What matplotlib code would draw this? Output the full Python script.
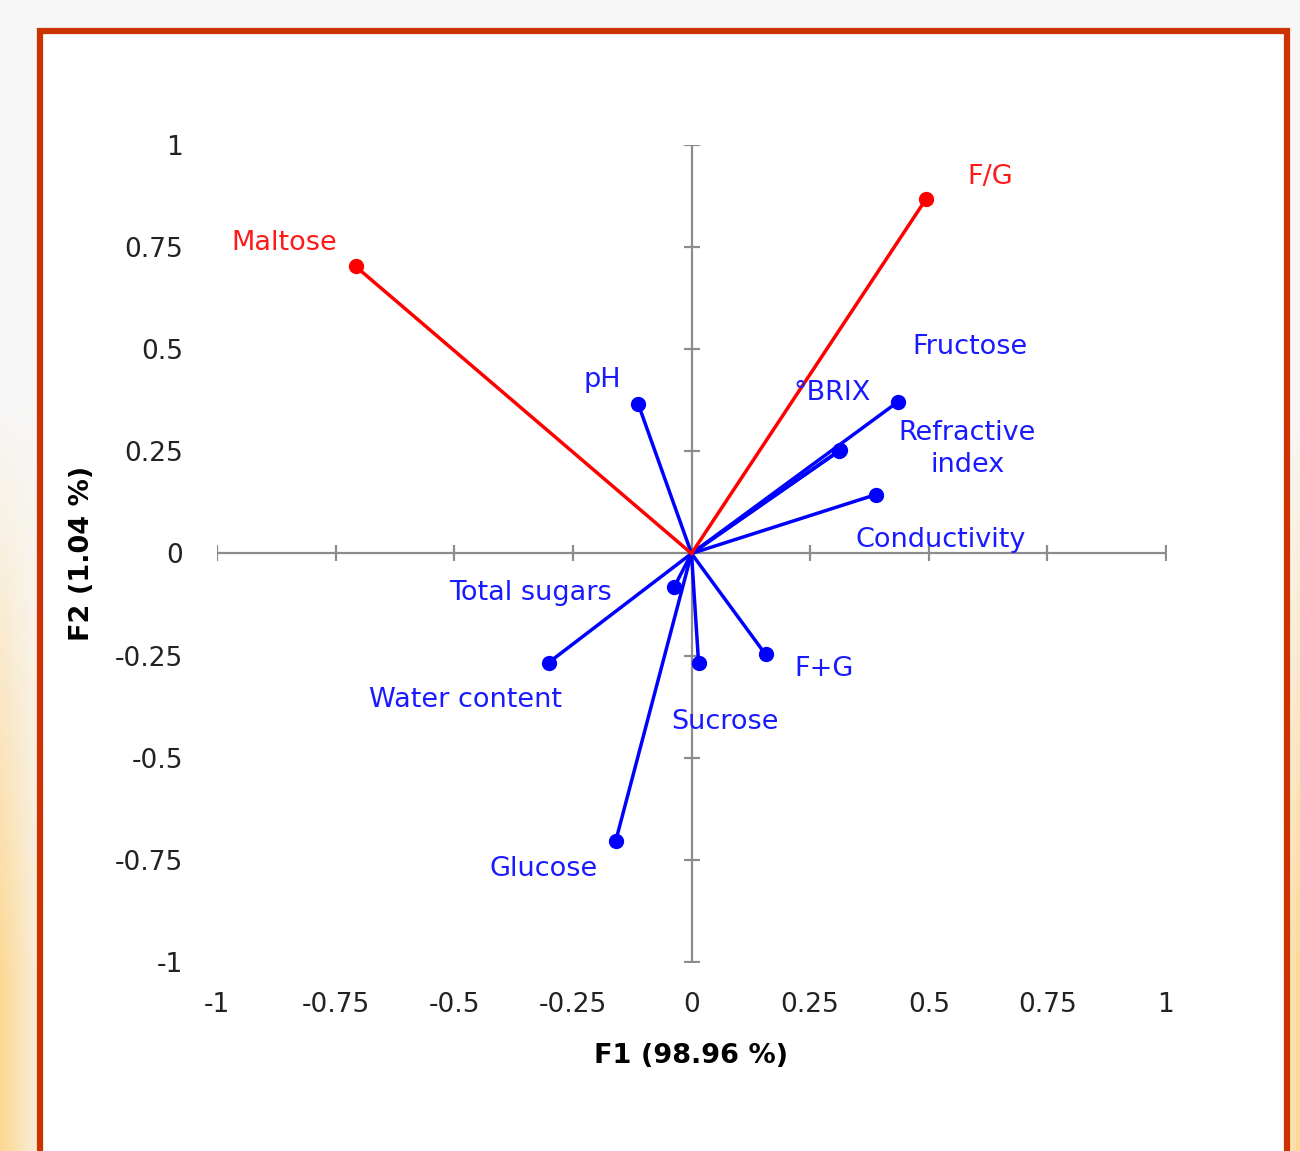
import matplotlib.pyplot as plt
import numpy as np
from matplotlib.patches import Rectangle

# variable names and their loadings on F1 / F2
red_vars = ['Maltose', 'F/G']
red_f1 = [-0.708, 0.495]
red_f2 = [0.703, 0.869]

blue_vars = ['pH', 'Fructose', '°BRIX', 'Refractive\nindex', 'Conductivity',
             'Total sugars', 'Water content', 'Sucrose', 'F+G', 'Glucose']
blue_f1 = [-0.112, 0.436, 0.310, 0.314, 0.388, -0.036, -0.301, 0.015, 0.156, -0.160]
blue_f2 = [0.365, 0.372, 0.250, 0.254, 0.144, -0.081, -0.267, -0.269, -0.247, -0.705]

ticks = [-1, -0.75, -0.5, -0.25, 0, 0.25, 0.5, 0.75, 1]
tick_labels = ['-1', '-0.75', '-0.5', '-0.25', '0', '0.25', '0.5', '0.75', '1']

# label offsets in pixels from each point
red_offsets = [(-71, 23), (64, 22)]
blue_offsets = [(-36, 24), (72, 55), (-7, 58), (127, 1), (65, -45),
                (-144, -6), (-83, -37), (26, -59), (59, -15), (-72, -28)]

plt.rcParams['font.family'] = ['DejaVu Sans']

W, H = 1300, 1151
fig = plt.figure(figsize=(W / 100, H / 100), dpi=100)

# background outside the frame: light with a warm blur on the sides
bg = fig.add_axes([0, 0, 1, 1], zorder=-5)
gy = np.linspace(0, 1, 300)[:, None]
gx = np.linspace(0, 1, 300)[None, :]
warm = np.clip((gy - 0.35) / 0.5, 0, 1) * (np.clip(1 - gx / 0.04, 0, 1) + np.clip((gx - 0.985) / 0.015, 0, 1))
img = np.ones((300, 300, 3))
img[..., 0] = 0.97 + 0.02 * warm
img[..., 1] = 0.97 - 0.12 * warm
img[..., 2] = 0.97 - 0.38 * warm
bg.imshow(img, extent=[0, 1, 0, 1], aspect='auto', origin='upper')
bg.set_xlim(0, 1)
bg.set_ylim(0, 1)
bg.axis('off')
bg.add_patch(Rectangle((40 / W, -0.05), 1247 / W, 1.05 - 31 / H, facecolor='white',
                       edgecolor='#CC3300', linewidth=4.5))

ax = fig.add_axes([217 / W, 1 - 962 / H, 949 / W, 817 / H])
ax.patch.set_alpha(0)
ax.set_xlim(-1, 1)
ax.set_ylim(-1, 1)
for s in ax.spines.values():
    s.set_visible(False)

gray = '#8c8c8c'
ax.axhline(0, color=gray, lw=1.6, zorder=1)
ax.axvline(0, color=gray, lw=1.6, zorder=1)
tk = [t for t in ticks if t != 0]
ax.plot(tk, [0] * len(tk), ls='none', marker='|', ms=12, mew=1.6, color=gray, zorder=1)
ax.plot([0] * len(tk), tk, ls='none', marker='_', ms=12, mew=1.6, color=gray, zorder=1)

ax.set_xticks(ticks)
ax.set_xticklabels(tick_labels)
ax.set_yticks(ticks)
ax.set_yticklabels(tick_labels)
ax.tick_params(length=0, labelsize=19, colors='#222222')
ax.tick_params(axis='x', pad=21.5)
ax.tick_params(axis='y', pad=24.5)

ax.set_xlabel('F1 (98.96 %)', fontsize=19.5, fontweight='bold', labelpad=18)
ax.set_ylabel('F2 (1.04 %)', fontsize=19.5, fontweight='bold', labelpad=14)

red = '#FF0000'
blue = '#0000FF'
for name, x, y, off in zip(red_vars, red_f1, red_f2, red_offsets):
    ax.plot([0, x], [0, y], color=red, lw=2.5, zorder=3)
    ax.plot(x, y, 'o', color=red, ms=10, zorder=4)
    ax.annotate(name, (x, y), xytext=off, textcoords='offset pixels',
                ha='center', va='center', color='#FF1a1a', fontsize=19.5)

for name, x, y, off in zip(blue_vars, blue_f1, blue_f2, blue_offsets):
    ax.plot([0, x], [0, y], color=blue, lw=2.5, zorder=2)
    ax.plot(x, y, 'o', color=blue, ms=10, zorder=2)
    ax.annotate(name, (x, y), xytext=off, textcoords='offset pixels',
                ha='center', va='center', color='#1a1aff', fontsize=19.5,
                multialignment='center', linespacing=1.3)

fig.savefig('out.png', dpi=100)
